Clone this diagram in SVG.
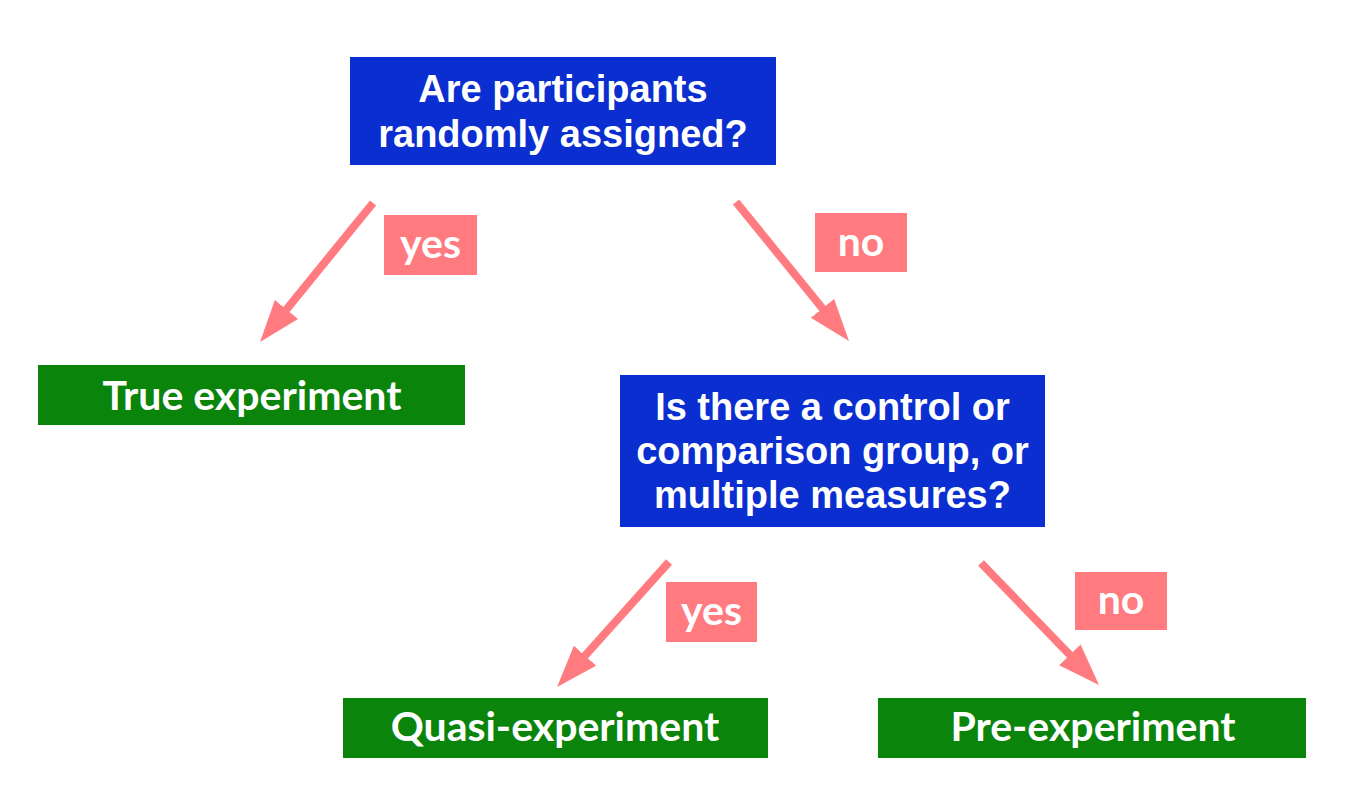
<svg xmlns="http://www.w3.org/2000/svg" width="1361" height="805" viewBox="0 0 1361 805">
  <defs>
    <style>
      .q { fill: #0a2ecf; }
      .r { fill: #0a840a; }
      .lbl { fill: #ff7b80; }
      .qt { font-family: "Liberation Sans", Arial, sans-serif; font-weight: bold; font-size: 38px; fill: #ffffff; text-anchor: middle; }
      .rt { font-family: Lato, "Open Sans", sans-serif; font-weight: bold; font-size: 41px; fill: #ffffff; text-anchor: middle; }
      .lt { font-family: Lato, "Open Sans", sans-serif; font-weight: bold; font-size: 41px; fill: #ffffff; text-anchor: middle; }
      .arr { stroke: #ff7b80; stroke-width: 8; fill: none; marker-end: url(#head); }
    </style>
    <marker id="head" markerUnits="userSpaceOnUse" markerWidth="44" markerHeight="32" refX="4" refY="15" orient="auto">
      <path d="M0,0 L42,15 L0,30 z" fill="#ff7b80"/>
    </marker>
  </defs>
  <rect width="1361" height="805" fill="#ffffff"/>

  <g id="connectors">
    <line class="arr" x1="373" y1="203" x2="284" y2="312.5"/>
    <line class="arr" x1="736" y1="202" x2="825" y2="311.5"/>
    <line class="arr" x1="669" y1="562" x2="582.4" y2="658.7"/>
    <line class="arr" x1="981" y1="563" x2="1072.6" y2="657.7"/>
    <g id="label-yes-1">
      <rect class="lbl" x="384" y="215" width="93" height="60"/>
      <text class="lt" x="430.5" y="258">yes</text>
    </g>
    <g id="label-no-1">
      <rect class="lbl" x="815" y="213" width="92" height="59"/>
      <text class="lt" x="861" y="256">no</text>
    </g>
    <g id="label-yes-2">
      <rect class="lbl" x="666" y="582" width="91" height="60"/>
      <text class="lt" x="711.5" y="625">yes</text>
    </g>
    <g id="label-no-2">
      <rect class="lbl" x="1075" y="572" width="92" height="58"/>
      <text class="lt" x="1121" y="614">no</text>
    </g>
  </g>

  <g id="q1">
    <rect class="q" x="350" y="57" width="426" height="108"/>
    <text class="qt" x="563" y="102">Are participants</text>
    <text class="qt" x="563" y="147">randomly assigned?</text>
  </g>

  <g id="true-experiment">
    <rect class="r" x="38" y="365" width="427" height="60"/>
    <text class="rt" x="252" y="410">True experiment</text>
  </g>

  <g id="q2">
    <rect class="q" x="620" y="375" width="425" height="152"/>
    <text class="qt" x="832.5" y="420">Is there a control or</text>
    <text class="qt" x="832.5" y="464">comparison group, or</text>
    <text class="qt" x="832.5" y="508">multiple measures?</text>
  </g>

  <g id="quasi-experiment">
    <rect class="r" x="343" y="698" width="425" height="60"/>
    <text class="rt" x="555" y="741">Quasi-experiment</text>
  </g>

  <g id="pre-experiment">
    <rect class="r" x="878" y="698" width="428" height="60"/>
    <text class="rt" x="1093" y="741">Pre-experiment</text>
  </g>
</svg>
